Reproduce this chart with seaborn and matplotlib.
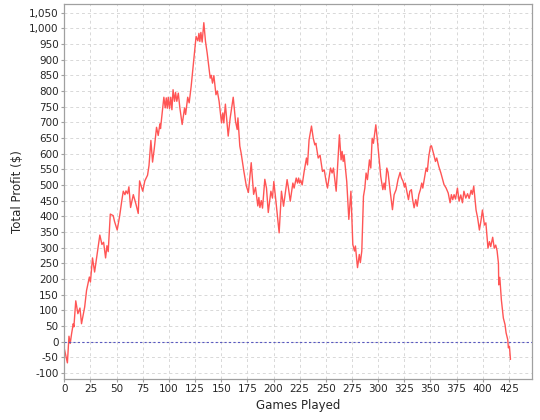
import matplotlib
matplotlib.use("Agg")
import matplotlib.pyplot as plt
import matplotlib.ticker as mticker
import seaborn as sns
import pandas as pd

# cumulative profit (game number, total $)
games = [
    0, 3, 4.5, 5.7, 7, 8.6, 9.2, 11, 13, 15, 16.5, 18, 19.5, 21.3, 24, 25, 27, 29,
    31.5, 34, 36, 37.6, 39.5, 40.8, 42, 44, 46.8, 48, 50.6, 53, 55, 56.4, 58, 59,
    60.5, 61.8, 63.4, 66, 68.5, 70.7, 72, 75, 77, 79.6, 81, 82.8, 84.4, 86, 88.2,
    89.8, 91.4, 92, 95.2, 96.5, 97.5, 98.5, 99.4, 100.6, 101.8, 102.9, 104, 105.4,
    106.4, 107.6, 109, 110.5, 112.7, 115, 116, 118, 119.4, 121.3, 123.9, 126,
    127.7, 128.7, 129.6, 130.6, 131.8, 133.4, 135, 136.6, 139.5, 140.5, 141.7, 143,
    145, 146.3, 148, 150.3, 151.6, 152.5, 154, 156.7, 158.6, 161.5, 163.7, 165.3,
    166, 167.8, 169, 171.6, 174, 176, 178.7, 181, 182.8, 185, 186, 187, 188.3,
    189.5, 191.7, 193.3, 195, 197.5, 199, 200.3, 202, 205.4, 207.6, 209.6, 213,
    214.3, 216, 218.5, 219.7, 221.7, 223, 224, 225, 226, 227.4, 229.3, 231.5,
    232.5, 234, 236.3, 238, 239.5, 240.5, 242.7, 244.5, 246.8, 248.5, 250.3,
    251.6, 253, 254.5, 256, 257.3, 258.6, 259.9, 261.5, 263, 264.6, 265.6, 266.6,
    267.5, 270, 272, 274, 275.8, 277.4, 278.3, 280.3, 282, 283, 284.4, 286, 287.3,
    288.5, 289.8, 291.7, 293, 294.3, 295.5, 297.8, 299.4, 301, 302.5, 304.5,
    305.7, 306.7, 308.3, 309.5, 311.5, 313.7, 315.3, 317.2, 319, 321, 322.3,
    323.8, 325.2, 326, 327.4, 329, 330.3, 331.8, 333, 334.4, 336, 337.3, 338.9,
    340.4, 341.7, 342.7, 344.6, 345.9, 347, 348.4, 350, 351, 352.9, 354.8, 356,
    358, 360, 363, 365, 367, 368.8, 370, 371.3, 372.6, 374, 375.8, 377.4, 379,
    380.6, 382, 383.8, 385.5, 387, 388.9, 390, 391.4, 393.6, 395.2, 396.8, 398.4,
    399.7, 401.6, 403, 405, 406.4, 407.6, 409.5, 411, 412.4, 413.7, 415, 415.3,
    416.3, 417.8, 419.7, 421.3, 422.3, 423.9, 424.5, 425.5, 426.5,
]
profit = [
    -22, -68, 17, -6, 25, 57, 47, 130, 89, 107, 57, 84, 110, 163, 206, 190, 267, 222,
    280, 340, 310, 317, 267, 306, 287, 407, 402, 384, 356, 402, 450, 480, 469, 481,
    472, 494, 428, 469, 439, 409, 513, 480, 513, 531, 562, 642, 573, 615, 684,
    658, 695, 680, 780, 746, 778, 745, 780, 744, 780, 740, 804, 767,
    795, 767, 793, 746, 693, 746, 725, 780, 762, 815, 905, 974,
    960, 984, 958, 987, 956, 1018, 958, 921, 841, 850, 825, 849,
    788, 800, 767, 698, 730, 698, 758, 656, 714, 780, 703, 677,
    714, 624, 603, 545, 497, 476, 571, 470, 492, 433, 460, 428, 450,
    426, 518, 490, 412, 480, 458, 511, 458, 347, 480, 432, 517,
    490, 448, 506, 490, 522, 506, 522, 506, 515, 500, 543, 586,
    564, 644, 688, 649, 628, 633, 586, 595, 543, 548, 511,
    490, 522, 554, 538, 554, 517, 480, 570, 660, 580, 607, 575,
    596, 511, 390, 480, 310, 289, 305, 236, 278, 252, 289, 464, 490,
    538, 517, 580, 554, 649, 633, 692, 639, 580, 527, 485,
    506, 485, 554, 540, 480, 421, 469, 485, 517, 540, 522,
    512, 493, 506, 480, 453, 480, 485, 453, 427, 453, 432, 469,
    485, 506, 490, 527, 554, 543, 591, 623, 625, 601, 575, 586,
    559, 538, 501, 490, 474, 443, 469, 453, 469, 455, 490, 448, 468,
    443, 480, 458, 472, 457, 483, 470, 496, 420, 393, 356, 388,
    420, 372, 379, 298, 319, 303, 333, 298, 308, 290, 250, 181,
    205, 133, 75, 54, 28, 6, -20, -15, -57,
]

df = pd.DataFrame({"game": games, "profit": profit})

sns.set_style("whitegrid")
plt.rcParams["font.family"] = ["DejaVu Sans"]

fig = plt.figure(figsize=(5.4, 4.2), dpi=100)
ax = fig.add_axes([0.119, 0.098, 0.867, 0.892])

sns.lineplot(data=df, x="game", y="profit", ax=ax, color="#ff5555",
             linewidth=1.0, estimator=None, sort=False)
# break-even line
ax.axhline(0, color="#5858c0", linewidth=0.8, linestyle=(0, (2, 2)))

ax.set_xlim(0, 447.5)
ax.set_ylim(-119, 1077)
ax.xaxis.set_major_locator(mticker.MultipleLocator(25))
ax.yaxis.set_major_locator(mticker.MultipleLocator(50))
ax.yaxis.set_major_formatter(mticker.FuncFormatter(lambda v, p: f"{int(v):,}"))

ax.grid(True, color="#d8d8d8", linestyle=(0, (3, 3)), linewidth=0.7)
for side in ["left", "bottom", "top", "right"]:
    ax.spines[side].set_color("#a0a0a0")
    ax.spines[side].set_linewidth(0.9)
ax.tick_params(axis="both", labelsize=7.5, length=2, width=0.8,
               color="#a0a0a0", pad=2, bottom=True, left=True)

ax.set_xlabel("Games Played", fontsize=8.5, labelpad=3)
ax.set_ylabel("Total Profit ($)", fontsize=8.5, labelpad=4)

fig.savefig("out.png", dpi=100, facecolor="white")
